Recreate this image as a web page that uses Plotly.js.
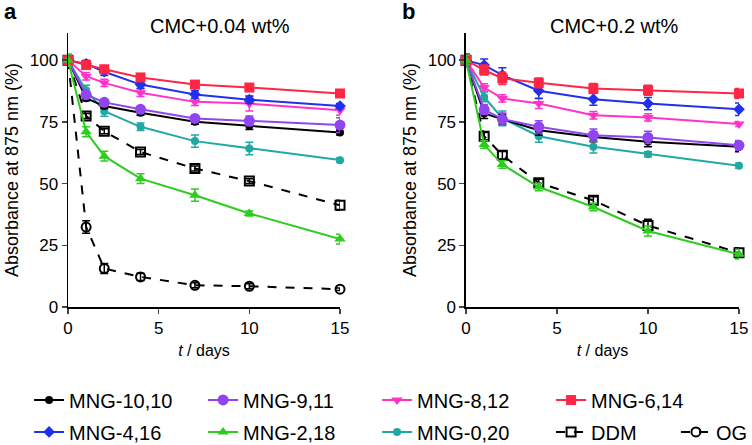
<!DOCTYPE html>
<html><head><meta charset="utf-8">
<script src="https://cdn.plot.ly/plotly-3.0.1.min.js"></script>
<style>html,body{margin:0;padding:0;background:#fff}#c{width:752px;height:445px}</style>
</head><body><div id="c"></div>
<script>
const days = [0, 1, 2, 4, 7, 10, 15];
const names = ['MNG-10,10','MNG-9,11','MNG-8,12','MNG-6,14','MNG-4,16','MNG-2,18','MNG-0,20','DDM','OG'];

// Panel a: CMC+0.04 wt%
const a_m10_10 = [100, 84.6, 81.4, 78.7, 75.0, 73.4, 70.7];
const a_m9_11  = [100, 86.0, 82.9, 80.1, 76.4, 75.4, 73.7];
const a_m8_12  = [100, 93.5, 90.8, 86.8, 83.1, 82.4, 79.7];
const a_m6_14  = [100, 98.0, 96.3, 93.0, 90.1, 88.9, 86.5];
const a_m4_16  = [100, 98.5, 95.3, 90.1, 86.1, 84.0, 81.4];
const a_m2_18  = [100, 71.0, 61.1, 52.0, 45.3, 37.9, 27.5];
const a_m0_20  = [100, 87.8, 79.3, 73.0, 67.2, 64.2, 59.5];
const a_ddm    = [100, 77.4, 71.2, 62.8, 56.1, 51.0, 41.2];
const a_og     = [100, 32.4, 15.6, 12.2, 8.8, 8.4, 7.2];

const a_e_m10_10 = [1, 1, 1, 1, 1, 1.5, 1];
const a_e_m9_11  = [1.5, 1, 1, 1, 1, 2, 3];
const a_e_m8_12  = [1, 1.5, 1.5, 1.5, 1.5, 3, 2];
const a_e_m6_14  = [1, 1.5, 1.5, 1.5, 1, 1.5, 1.5];
const a_e_m4_16  = [1, 1.5, 1.5, 1.5, 1.5, 1.5, 1];
const a_e_m2_18  = [2.5, 2, 2, 2, 2.5, 1, 2];
const a_e_m0_20  = [2, 2, 2, 1.5, 2.5, 2.5, 1];
const a_e_ddm    = [1, 1, 1, 1, 1, 1, 2];
const a_e_og     = [1, 2.5, 2, 1.5, 1, 1, 0.5];

// Panel b: CMC+0.2 wt%
const b_m10_10 = [100, 78.4, 76.1, 71.6, 68.9, 66.9, 64.9];
const b_m9_11  = [100, 80.0, 76.1, 73.0, 69.6, 68.7, 65.5];
const b_m8_12  = [100, 88.9, 84.5, 82.4, 77.7, 76.8, 74.1];
const b_m6_14  = [100, 96.0, 92.6, 90.8, 88.5, 87.8, 86.5];
const b_m4_16  = [100, 98.0, 93.9, 87.6, 84.2, 82.4, 80.1];
const b_m2_18  = [100, 65.8, 57.7, 48.6, 40.5, 30.8, 21.4];
const b_m0_20  = [100, 85.1, 76.4, 69.2, 64.9, 61.9, 57.2];
const b_ddm    = [100, 69.2, 61.5, 50.3, 43.2, 33.0, 22.0];

const b_e_m10_10 = [2, 2, 2, 2, 2, 2, 2];
const b_e_m9_11  = [2, 2, 2.5, 2.5, 2.5, 2.5, 2];
const b_e_m8_12  = [2, 1.5, 1.5, 2, 1.5, 1.5, 1];
const b_e_m6_14  = [2, 2, 2.5, 2, 2, 2, 2];
const b_e_m4_16  = [2.5, 2.5, 3, 3, 2.5, 2.5, 2.5];
const b_e_m2_18  = [2, 1.5, 1.5, 1.5, 1.5, 2, 2];
const b_e_m0_20  = [2, 2, 3, 2.5, 2.5, 1, 1];
const b_e_ddm    = [1.5, 1.5, 1.5, 1.5, 1.5, 2.5, 2];

const colors = ['#000000','#9045f0','#ff33c8','#ff2545','#2030ee','#2ecc1e','#22a8a2','#000000','#000000'];
const symbols = ['circle','circle','triangle-down','square','diamond','triangle-up','circle','square-open','circle-open'];
const sizes = [8, 11, 10, 10, 9, 10, 8, 9, 9];
const dashes = ['solid','solid','solid','solid','solid','solid','solid','dash','dash'];
const legendOf = ['legend','legend','legend','legend','legend2','legend2','legend2','legend2','legend3'];

const aData = [a_m10_10,a_m9_11,a_m8_12,a_m6_14,a_m4_16,a_m2_18,a_m0_20,a_ddm,a_og];
const aErr = [a_e_m10_10,a_e_m9_11,a_e_m8_12,a_e_m6_14,a_e_m4_16,a_e_m2_18,a_e_m0_20,a_e_ddm,a_e_og];
const bData = [b_m10_10,b_m9_11,b_m8_12,b_m6_14,b_m4_16,b_m2_18,b_m0_20,b_ddm];
const bErr = [b_e_m10_10,b_e_m9_11,b_e_m8_12,b_e_m6_14,b_e_m4_16,b_e_m2_18,b_e_m0_20,b_e_ddm];

const drawOrder = [7,8,6,0,1,2,4,3,5];
const traces = [];
function mk(i, ys, es, xa, ya, show){
  return {
    x: days, y: ys, xaxis: xa, yaxis: ya, name: names[i], type: 'scatter', mode: 'lines+markers',
    showlegend: show, legend: legendOf[i], legendrank: 100 + i, cliponaxis: false,
    line: {color: colors[i], width: 2, dash: dashes[i]},
    marker: {symbol: symbols[i], size: sizes[i], color: colors[i], line: {color: colors[i], width: (i>=7?2:0)}},
    error_y: {type: 'data', array: es, visible: true, color: colors[i], thickness: 1.5, width: 4}
  };
}
const aTr = {}, bTr = {};
for (let i=0;i<9;i++) aTr[i] = mk(i, aData[i], aErr[i], 'x', 'y', true);
for (let i=0;i<8;i++) bTr[i] = mk(i, bData[i], bErr[i], 'x2', 'y2', false);
for (const i of drawOrder) { traces.push(aTr[i]); }
for (const i of drawOrder) { if (bTr[i]) traces.push(bTr[i]); }

const F = 'Liberation Sans, Arial, sans-serif';
const axY = {range: [0, 111], tickvals: [0,25,50,75,100], ticks: 'outside', ticklen: 5, tickwidth: 1.5,
  showline: true, linecolor: '#000', linewidth: 1.5, showgrid: false, zeroline: false,
  tickfont: {family: F, size: 17, color: '#000'},
  title: {text: 'Absorbance at 875 nm (%)', font: {family: F, size: 18, color: '#000'}, standoff: 6}};
const axX = {range: [0, 15], tickvals: [0,5,10,15], ticks: 'outside', ticklen: 5, tickwidth: 1.5,
  showline: true, linecolor: '#000', linewidth: 1.5, showgrid: false, zeroline: false,
  tickfont: {family: F, size: 17, color: '#000'},
  title: {text: '<i>t</i> / days', font: {family: F, size: 16, color: '#000'}, standoff: 8}};

const legBase = {orientation: 'h', xref: 'paper', yref: 'paper', xanchor: 'left', yanchor: 'middle',
  font: {family: F, size: 20, color: '#000'}, bgcolor: 'rgba(0,0,0,0)', entrywidth: 129, itemwidth: 30, tracegroupgap: 0,
  traceorder: 'normal'};

const layout = {
  width: 752, height: 445, paper_bgcolor: '#fff', plot_bgcolor: '#fff',
  margin: {l: 68, r: 13, t: 33, b: 138, autoexpand: false},
  showlegend: true,
  xaxis: Object.assign({}, axX, {domain: [0, 0.4054], anchor: 'y'}),
  yaxis: Object.assign({}, axY, {domain: [0, 1], anchor: 'x'}),
  xaxis2: Object.assign({}, axX, {domain: [0.5931, 1], anchor: 'y2'}),
  yaxis2: Object.assign({}, axY, {domain: [0, 1], anchor: 'x2'}),
  legend: Object.assign({}, legBase, {x: -0.058, y: -0.339}),
  legend2: Object.assign({}, legBase, {x: -0.058, y: -0.456}),
  legend3: Object.assign({}, legBase, {x: 0.906, y: -0.456, entrywidth: 0}),
  annotations: [
    {text: 'CMC+0.04 wt%', xref: 'paper', yref: 'paper', x: 0.227, y: 1.0255, xanchor: 'center', yanchor: 'middle', showarrow: false, font: {family: F, size: 20, color: '#000'}},
    {text: 'CMC+0.2 wt%', xref: 'paper', yref: 'paper', x: 0.814, y: 1.0255, xanchor: 'center', yanchor: 'middle', showarrow: false, font: {family: F, size: 20, color: '#000'}},
    {text: '<b>a</b>', xref: 'paper', yref: 'paper', x: -0.086, y: 1.077, xanchor: 'center', yanchor: 'middle', showarrow: false, font: {family: F, size: 22, color: '#000'}},
    {text: '<b>b</b>', xref: 'paper', yref: 'paper', x: 0.507, y: 1.077, xanchor: 'center', yanchor: 'middle', showarrow: false, font: {family: F, size: 22, color: '#000'}}
  ]
};
Plotly.newPlot('c', traces, layout, {displayModeBar: false, staticPlot: true});
</script></body></html>
